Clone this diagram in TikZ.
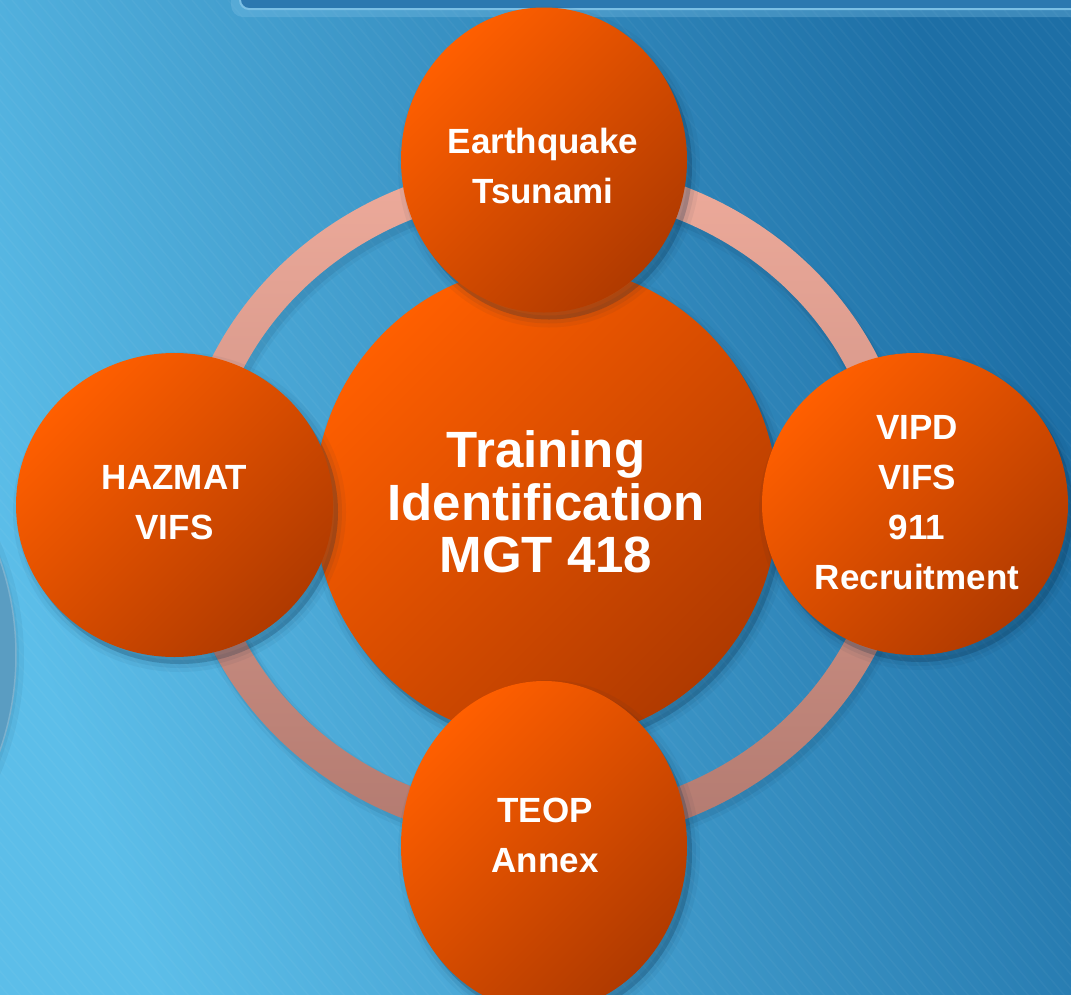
\documentclass[tikz,border=0pt]{standalone}
\usepackage{fontspec}
\setmainfont{Liberation Sans}
\usetikzlibrary{shapes.geometric}
\definecolor{bgL}{HTML}{5CBEE9}
\definecolor{bgR}{HTML}{1D6FA6}
\definecolor{orA}{HTML}{FF5F00}
\definecolor{orB}{HTML}{B03A00}
\definecolor{ringA}{HTML}{EEAB9B}
\definecolor{ringB}{HTML}{B27A70}
\definecolor{barF}{HTML}{2C78B0}
\definecolor{barE}{HTML}{7BBFE5}
\definecolor{sideC}{HTML}{5A9DC2}
\definecolor{shadowc}{HTML}{0A2A45}
\begin{document}
\begin{tikzpicture}[x=1pt,y=-1pt,
  softshadow/.style={
     preaction={fill=shadowc, draw=shadowc, opacity=0.05, line width=16pt, transform canvas={shift={(5pt,-7pt)}}},
     preaction={fill=shadowc, draw=shadowc, opacity=0.07, line width=8pt, transform canvas={shift={(5pt,-7pt)}}},
     preaction={fill=shadowc, opacity=0.12, transform canvas={shift={(5pt,-7pt)}}}},
  disc/.style={ellipse, inner sep=0pt, softshadow, top color=orA, bottom color=orB, shading angle=45},
  lbl/.style={text=white, font=\bfseries\fontsize{35}{50}\selectfont, align=center, inner sep=0pt},
  big/.style={text=white, font=\bfseries\fontsize{51}{52.5}\selectfont, align=center, inner sep=0pt}]
\useasboundingbox (0,0) rectangle (1071,994);
% background
\shade[top color=bgL, bottom color=bgR, shading angle=110] (0,0) rectangle (1071,994);
% faint diagonal stripes
\begin{scope}
\clip (0,0) rectangle (1071,994);
\foreach \i in {-1200,-1188,...,1100}
  \draw[white, opacity=0.035, line width=1.5pt] (\i,0) -- ++(1000,1190);
\end{scope}
% top bar
\fill[barE, opacity=0.35, rounded corners=12pt] (231,-40) rectangle (1110,17);
\draw[fill=barF, draw=barE, line width=2pt, rounded corners=9pt] (240,-40) rectangle (1110,9);
% partial circle at the left edge
\node[circle, minimum size=580pt, fill=sideC, draw=sideC!80!white, line width=1.5pt,
      preaction={fill=shadowc, draw=shadowc, opacity=0.06, line width=10pt, transform canvas={shift={(3pt,-3pt)}}}] (side) at (-274,655) {};
% ring
\coordinate (c) at (545,503);
\draw[line width=42pt, draw=shadowc, opacity=0.05] ([shift={(3,6)}]c) ellipse [x radius=351, y radius=325];
\draw[line width=36pt, draw=shadowc, opacity=0.09] ([shift={(3,5)}]c) ellipse [x radius=351, y radius=325];
\shade[top color=ringA, bottom color=ringB, even odd rule]
  (c) ellipse [x radius=368, y radius=342] (c) ellipse [x radius=335, y radius=309];
% central disc
\node[disc, minimum width=464pt, minimum height=476pt] (centre) at (546,503) {};
\node[big] (centreText) at (546,502) {Training\\Identification\\MGT 418};
% satellites
\node[disc, minimum width=286pt, minimum height=305pt] (top) at (544,160) {};
\node[lbl] (topText) at (543,165.5) {Earthquake\\Tsunami};
\node[disc, minimum width=306pt, minimum height=302pt] (right) at (915,504) {};
\node[lbl] (rightText) at (917,502.5) {VIPD\\VIFS\\911\\Recruitment};
\node[disc, minimum width=286pt, minimum height=330pt] (bottom) at (544,846) {};
\node[lbl] (bottomText) at (545,835.5) {TEOP\\Annex};
\node[disc, minimum width=317pt, minimum height=304pt] (left) at (174.5,505) {};
\node[lbl] (leftText) at (174.5,502.5) {HAZMAT\\VIFS};
\end{tikzpicture}
\end{document}
